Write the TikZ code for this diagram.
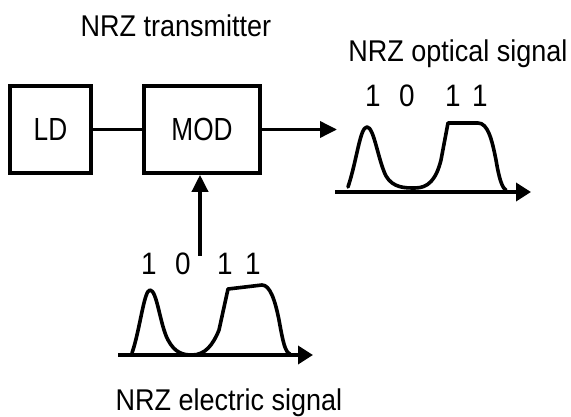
\documentclass[tikz,border=0pt]{standalone}
\usepackage{fontspec}
\setmainfont{Liberation Sans}[FakeStretch=0.9]
\newfontfamily\blkfont{Liberation Sans}[FakeStretch=0.82]
\usetikzlibrary{arrows.meta}
\begin{document}
\begin{tikzpicture}[x=1pt,y=-1pt,
  blk/.style={draw,line width=3.6pt,inner sep=0pt,font=\blkfont\fontsize{32}{36}\selectfont},
  lbl/.style={inner sep=0pt,anchor=base,font=\fontsize{30}{34}\selectfont},
  bit/.style={inner sep=0pt,font=\fontsize{31}{34}\selectfont},
  wire/.style={line width=3.6pt},
  arr/.style={line width=3.6pt,-{Triangle[length=17pt,width=16pt]}},
  axis/.style={line width=3.6pt,-{Triangle[length=15pt,width=18pt]}},
  sig/.style={line width=3.6pt,line join=round,line cap=round}]
\useasboundingbox (0,0) rectangle (571,417);
% blocks
\node[blk,minimum width=81pt,minimum height=87pt] (ld) at (50.5,129.5) {LD};
\node[blk,minimum width=116pt,minimum height=87pt] (mod) at (202,129.5) {MOD};
\draw[wire] (ld.east) -- (mod.west);
% titles
\node[lbl] (t1) at (176,36.5) {NRZ transmitter};
\node[lbl] (t2) at (458,61.5) {NRZ optical signal};
\node[lbl] (t3) at (229,410) {NRZ electric signal};
% output arrow
\coordinate (oend) at (337,129.5);
\draw[arr] (mod.east) -- (oend);
% input arrow
\coordinate (istart) at (200,256);
\draw[arr] (istart) -- (mod.south -| istart);
% optical signal
\coordinate (oa0) at (335,192);
\coordinate (oa1) at (531,192);
\draw[axis] (oa0) -- (oa1);
\node[bit] (ob1) at (373,96) {1};
\node[bit] (ob2) at (407,96) {0};
\node[bit] (ob3) at (453,96) {1};
\node[bit] (ob4) at (480,96) {1};
\draw[sig] (348,187) .. controls (357,160) and (360,127) .. (367,127)
  .. controls (374,127) and (378,160) .. (386,176)
  .. controls (393,188) and (405,188) .. (415,188)
  .. controls (428,188) and (436,180) .. (441,160)
  -- (448,123) -- (478,123)
  .. controls (488,123) and (492,140) .. (496,160)
  .. controls (499,178) and (502,188) .. (506,190);
% electric signal
\coordinate (ea0) at (118,355);
\coordinate (ea1) at (313,355);
\draw[axis] (ea0) -- (ea1);
\node[bit] (eb1) at (149,264) {1};
\node[bit] (eb2) at (183,264) {0};
\node[bit] (eb3) at (225,264) {1};
\node[bit] (eb4) at (253,264) {1};
\draw[sig] (132,353) .. controls (140,330) and (144,290) .. (150,290)
  .. controls (157,290) and (160,325) .. (168,340)
  .. controls (175,353) and (183,355) .. (192,355)
  .. controls (205,355) and (213,345) .. (219,330)
  -- (228,289) -- (262,285)
  .. controls (270,285) and (275,300) .. (279,320)
  .. controls (283,342) and (285,352) .. (290,354);
\end{tikzpicture}
\end{document}
